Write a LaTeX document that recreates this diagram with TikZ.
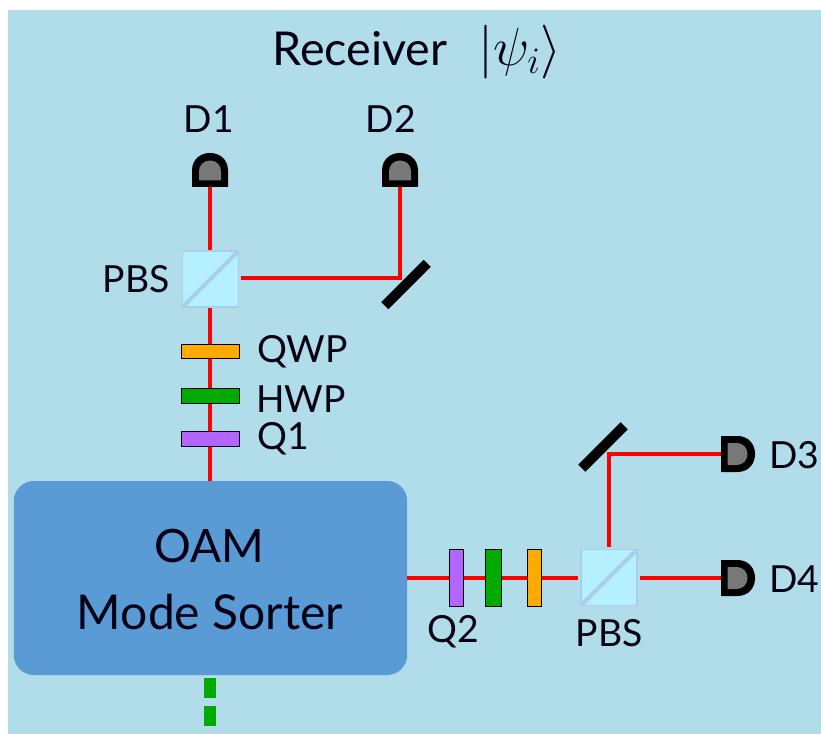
\documentclass[tikz,border=0pt]{standalone}
\usepackage{fontspec}
\usepackage{graphicx}
\setmainfont{Lato}
\definecolor{bgc}{RGB}{176,221,233}
\definecolor{boxc}{RGB}{91,155,213}
\definecolor{cube}{RGB}{180,240,255}
\definecolor{cubeline}{RGB}{170,205,235}
\definecolor{qwpc}{RGB}{255,170,0}
\definecolor{hwpc}{RGB}{0,170,0}
\definecolor{qc}{RGB}{178,102,255}
\definecolor{grayc}{RGB}{120,120,120}
\colorlet{ink}{black!92!blue}
\newcommand{\detector}[2]{%
  \begin{scope}[shift={(#1)},rotate=#2]
    \fill[black,rounded corners=0.4pt] (-18,0) -- (-18,-16) .. controls (-18,-28) and (-9,-34) .. (0,-34)
      .. controls (9,-34) and (18,-28) .. (18,-16) -- (18,0) -- cycle;
    \fill[grayc] (-11,-6.5) -- (-11,-16) .. controls (-11,-22) and (-6,-26.5) .. (0,-26.5)
      .. controls (6,-26.5) and (11,-22) .. (11,-16) -- (11,-6.5) -- cycle;
  \end{scope}}
\tikzset{
  x=0.75pt,y=-0.75pt,
  beam/.style={draw=red,line width=3pt},
  lbl/.style={inner sep=0pt,font=\fontsize{28}{28}\selectfont,text=ink},
  hplate/.style={draw=black,line width=0.9pt,minimum width=44pt,minimum height=11pt,inner sep=0pt},
  vplate/.style={draw=black,line width=0.9pt,minimum height=43pt,inner sep=0pt},
  cubebox/.style={draw=cubeline,line width=1.2pt,fill=cube,minimum size=42pt,inner sep=0pt,
    path picture={\draw[cubeline,line width=3pt] (path picture bounding box.south west) -- (path picture bounding box.north east);}},
  mirror/.style={fill=black,minimum width=45pt,minimum height=7.5pt,inner sep=0pt,rotate=45},
  sorter/.style={fill=boxc,rounded corners=15pt,minimum width=295pt,minimum height=145.5pt,inner sep=0pt},
  sorterlbl/.style={inner sep=0pt,text=ink},
  dashbit/.style={fill=hwpc,minimum width=9pt,minimum height=15pt,inner sep=0pt}
}
\begin{document}
\begin{tikzpicture}
\useasboundingbox (0,0) rectangle (821,734);
\fill[bgc] (8,10) rectangle (821,734);
\coordinate (d1) at (210,187);
\coordinate (d2) at (400,187);
\coordinate (d3) at (721,454);
\coordinate (d4) at (721,578);
\node[cubebox] (pbsa) at (210.5,279) {};
\node[cubebox] (pbsb) at (609,577.5) {};
\node[sorter] (oam) at (210.5,578) {};
\coordinate (bend1) at (400,278);
\coordinate (bend2) at (609,454);
\draw[beam] (d1) -- (d1 |- pbsa.north);
\draw[beam] (d1 |- pbsa.south) -- (d1 |- oam.north);
\draw[beam] ([xshift=1.5pt]pbsa.east |- bend1) -- (bend1) -- (d2);
\draw[beam] (oam.east |- d4) -- ([xshift=-1.5pt]pbsb.west |- d4);
\draw[beam] ([xshift=1.5pt]pbsb.east |- d4) -- (d4);
\draw[beam] ([yshift=1.5pt]pbsb.north -| bend2) -- (bend2) -- (d3);
\node[mirror] (m1) at (406,284.5) {};
\node[mirror] (m2) at (603,447) {};
\node[hplate,fill=qwpc] (qwp) at (210.5,351.5) {};
\node[hplate,fill=hwpc] (hwp) at (210.5,396) {};
\node[hplate,fill=qc] (q1) at (210.5,439) {};
\node[vplate,fill=qc,minimum width=10.5pt] (q2) at (456.5,578) {};
\node[vplate,fill=hwpc,minimum width=12.5pt] (hwpb) at (493.5,578) {};
\node[vplate,fill=qwpc,minimum width=10.5pt] (qwpb) at (534.5,578) {};
\detector{d1}{0}
\detector{d2}{0}
\detector{d3}{-90}
\detector{d4}{-90}
\node[dashbit] (da) at (210,688) {};
\node[dashbit] (db) at (210,716) {};
\node[lbl,font=\fontsize{35}{35}\selectfont,anchor=west] (title) at (272,49) {Receiver};
\node[lbl,anchor=west,font=\fontsize{24}{24}\selectfont] (titlem) at (478,52) {\scalebox{1.62}{$|\psi_i\rangle$}};
\node[sorterlbl,font=\fontsize{34.5}{34.5}\selectfont] (oama) at (209,546) {OAM};
\node[sorterlbl,font=\fontsize{36}{36}\selectfont] (oamb) at (210,612) {Mode Sorter};
\node[lbl] (ld1) at (209,119) {D1};
\node[lbl] (ld2) at (391,119) {D2};
\node[lbl,anchor=east] (lpa) at (170,279) {PBS};
\node[lbl,anchor=west] (lq) at (257,352) {QWP};
\node[lbl,anchor=west] (lh) at (256,399) {HWP};
\node[lbl,anchor=west] (lq1) at (257,439) {Q1};
\node[lbl,anchor=west] (ld3) at (769,455) {D3};
\node[lbl,anchor=west] (ld4) at (769,579) {D4};
\node[lbl] (lq2) at (453,632) {Q2};
\node[lbl] (lpb) at (609,633) {PBS};
\end{tikzpicture}
\end{document}
